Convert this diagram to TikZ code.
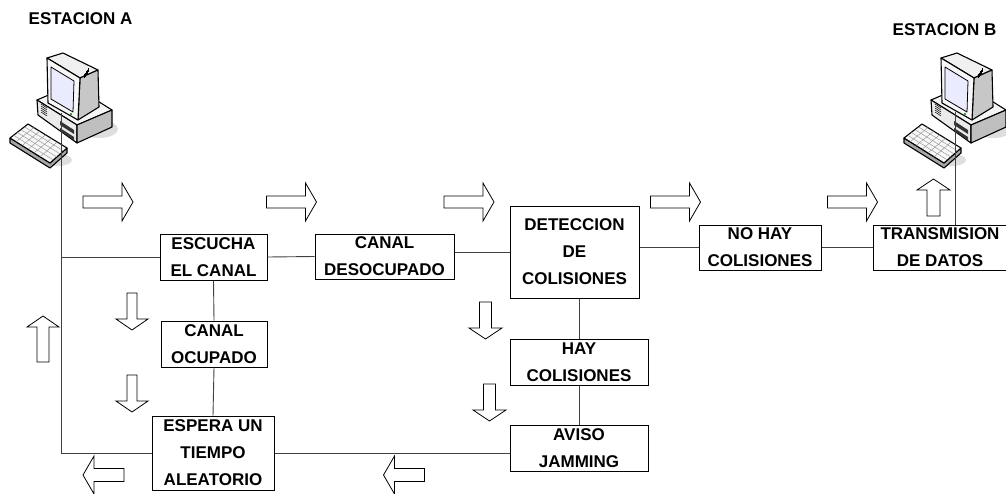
\documentclass[tikz,border=0pt]{standalone}
\usepackage{fontspec}
\setmainfont{Liberation Sans}
\usepackage{tikz}
\usetikzlibrary{calc}

% hollow block arrow: rotation, x, y, length, head width, shaft width
\newcommand{\blkarrow}[6]{%
  \draw[blk, shift={(#2,#3)}, rotate=#1]
    (-#4/2,-#6/2) -- (#4/2-11,-#6/2) -- (#4/2-11,-#5/2) -- (#4/2,0)
    -- (#4/2-11,#5/2) -- (#4/2-11,#6/2) -- (-#4/2,#6/2) -- cycle;}

% desktop computer, shifted by #1
\newcommand{\drawpc}[1]{%
  \begin{scope}[shift={(#1,0)}, line width=1.1pt, line join=round]
    \fill[black!13] (99,129) ellipse (19 and 9);
    \fill[black!13] (58,160) ellipse (14 and 6);
    % case
    \draw[fill=black!4] (37,100) -- (72,85) -- (112,110) -- (77,125) -- cycle;
    \draw[fill=black!8] (37,100) -- (77,125) -- (77,143) -- (38,115) -- cycle;
    \draw[fill=black!25] (77,125) -- (112,110) -- (112,127) -- (77,143) -- cycle;
    \fill[black!80] (60,121) -- (74,130) -- (74,134) -- (60,125) -- cycle;
    \fill[black!80] (60,128) -- (74,137) -- (74,140) -- (60,131) -- cycle;
    \foreach \v in {0,2,...,8}
      \draw[line width=0.5pt] (41,104+\v) -- (47,108+\v);
    % monitor
    \draw[fill=black!6] (47,58) -- (63,53) -- (98,70) -- (80,78) -- cycle;
    \draw[fill=black!22] (80,78) -- (98,70) -- (99,107) -- (78,120) -- cycle;
    \draw[fill=black!3] (47,58) -- (80,78) -- (78,120) -- (48,103) -- cycle;
    \draw[fill=blue!8, line width=0.8pt] (51,67) -- (74,81) -- (73,112) -- (51,99) -- cycle;
    \foreach \v in {0,3,...,12}
      \draw[line width=0.5pt] (84+\v/3,74-\v/2) -- (84+\v/3,78-\v/2);
    \fill[green!50!black] (71,114) circle (1.2);
    % keyboard
    \draw[fill=black!35] (10,138) -- (10,143) -- (50,168) -- (67,153) -- (67,148) -- (50,163) -- cycle;
    \draw[fill=black!3] (10,138) -- (28,124) -- (67,148) -- (50,163) -- cycle;
    \foreach \k in {0.2,0.4,0.6,0.8}
      \draw[line width=0.4pt, black!45] ($(10,138)!\k!(28,124)$) -- ($(50,163)!\k!(67,148)$);
    \foreach \k in {0.15,0.3,...,0.9}
      \draw[line width=0.4pt, black!45] ($(10,138)!\k!(50,163)$) -- ($(28,124)!\k!(67,148)$);
  \end{scope}}

\begin{document}
\begin{tikzpicture}[x=1pt, y=-1pt,
    box/.style={draw, line width=1pt, align=center, inner sep=0pt,
      font=\bfseries\fontsize{17}{27}\selectfont},
    lbl/.style={inner sep=0pt, font=\bfseries\fontsize{17}{20}\selectfont},
    conn/.style={draw=black!75, line width=0.9pt},
    blk/.style={draw=black, fill=white, line width=0.8pt, line join=miter}]
  \useasboundingbox (0,0) rectangle (1006,493);

  \drawpc{0}
  \drawpc{894}
  \node[lbl] (estA) at (80.5,19) {ESTACION A};
  \node[lbl] (estB) at (944.5,30) {ESTACION B};
  \coordinate (pcA) at (61,113);
  \coordinate (pcB) at (955,112);

  \node[box, minimum width=107, minimum height=46] (escucha)    at (213.5,257) {ESCUCHA\\EL CANAL};
  \node[box, minimum width=139, minimum height=45] (desocupado) at (384.5,256.5) {CANAL\\DESOCUPADO};
  \node[box, minimum width=129, minimum height=92] (deteccion)  at (574.5,252) {DETECCION\\DE\\COLISIONES};
  \node[box, minimum width=122, minimum height=45] (nohay)      at (760,247.5) {NO HAY\\COLISIONES};
  \node[box, minimum width=134, minimum height=45] (trans)      at (940,247.5) {TRANSMISION\\DE DATOS};
  \node[box, minimum width=106, minimum height=46] (ocupado)    at (214,344) {CANAL\\OCUPADO};
  \node[box, minimum width=122, minimum height=74] (espera)     at (213,453) {ESPERA UN\\TIEMPO\\ALEATORIO};
  \node[box, minimum width=138, minimum height=46] (hay)        at (579,362) {HAY\\COLISIONES};
  \node[box, minimum width=138, minimum height=46] (aviso)      at (579,448) {AVISO\\JAMMING};

  \draw[conn] (espera.west) -| (pcA);
  \draw[conn] (escucha.west) -- (escucha.west -| pcA);
  \draw[conn] (escucha.east) -- (desocupado.west);
  \draw[conn] (deteccion.west) -- (deteccion.west -| desocupado.east);
  \draw[conn] (nohay.west) -- (nohay.west -| deteccion.east);
  \draw[conn] (nohay.east) -- (trans.west);
  \draw[conn] (pcB) -- (pcB |- trans.north);
  \draw[conn] (escucha.south) -- (ocupado.north);
  \draw[conn] (ocupado.south) -- (espera.north);
  \draw[conn] (hay.north) -- (hay.north |- deteccion.south);
  \draw[conn] (hay.south) -- (aviso.north);
  \draw[conn] (espera.east) -- (espera.east -| aviso.west);

  \blkarrow{0}{108}{202}{50}{38}{12}
  \blkarrow{0}{291.5}{202}{50}{38}{12}
  \blkarrow{0}{469}{202}{50}{38}{12}
  \blkarrow{0}{675.5}{202}{50}{38}{12}
  \blkarrow{0}{852.5}{202}{50}{38}{12}
  \blkarrow{90}{933.5}{197.5}{37}{33}{13}
  \blkarrow{-90}{132}{311.5}{37}{32}{10}
  \blkarrow{-90}{132}{393.5}{37}{32}{10}
  \blkarrow{90}{43}{339}{46}{32}{12}
  \blkarrow{180}{103.5}{475}{41}{38}{13}
  \blkarrow{180}{404}{475}{41}{38}{13}
  \blkarrow{-90}{485.5}{320.5}{37}{33}{12}
  \blkarrow{-90}{489.5}{402.5}{37}{33}{12}
\end{tikzpicture}
\end{document}
